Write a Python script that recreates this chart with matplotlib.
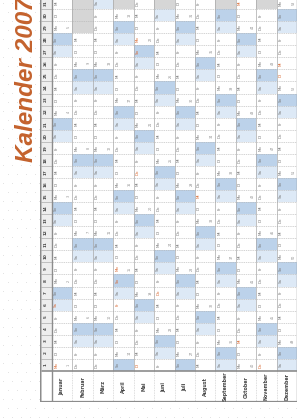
import numpy as np
import matplotlib
matplotlib.use("Agg")
import matplotlib.pyplot as plt
from matplotlib.colors import ListedColormap

title = "Kalender 2007"
months = ["Januar", "Februar", "März", "April", "Mai", "Juni", "Juli",
          "August", "September", "Oktober", "November", "Dezember"]
days_in_month = [31, 28, 31, 30, 31, 30, 31, 31, 30, 31, 30, 31]
first_weekday = [0, 3, 3, 6, 1, 4, 6, 2, 5, 0, 3, 5]   # 0 = Montag
weekday_abbr = ["Mo", "Di", "Mi", "Do", "Fr", "Sa", "So"]
holidays = [(1, 1), (1, 6), (4, 6), (4, 8), (4, 9), (5, 1), (5, 17), (5, 27),
            (5, 28), (6, 7), (8, 15), (10, 3), (10, 31), (11, 1), (12, 25), (12, 26)]
day_numbers = list(range(1, 32))

W, H = 298, 420
fig = plt.figure(figsize=(W / 100, H / 100), dpi=100)
fig.patch.set_facecolor("white")

# decorative dotted background
bg = fig.add_axes([0, 0, 1, 1])
bg.set_xlim(0, W)
bg.set_ylim(H, 0)
bg.axis("off")
gx, gy = np.meshgrid(np.arange(3, W, 9.0), np.arange(3, H, 9.0))
gx = gx + (np.arange(gy.shape[0])[:, None] % 2) * 4.5
bg.scatter(gx.ravel(), gy.ravel(), s=0.3, c="#d9d9d9", lw=0)

# main calendar axes
ax = fig.add_axes([40 / W, (H - 402) / H, 257 / W, 405 / H])
ax.set_xlim(-0.59, 12)
ax.set_ylim(-2.57, 31)
ax.set_xticks([])
ax.set_yticks([])
for s in ax.spines.values():
    s.set_visible(False)
ax.set_facecolor("white")

codes = np.zeros((31, 12))
for m in range(12):
    for d in day_numbers:
        if d > days_in_month[m]:
            codes[d - 1, m] = 3
        else:
            wd = (first_weekday[m] + d - 1) % 7
            codes[d - 1, m] = 2 if wd == 6 else (1 if wd == 5 else 0)
cmap = ListedColormap(["white", "#dde9f6", "#bcd2ea", "#d6d6d6"])
ax.pcolormesh(np.arange(13), np.arange(32), codes, cmap=cmap, vmin=-0.5, vmax=3.5)

# day-number column
ax.fill_between([-0.59, 0], 0, 31, color="#eeeeee", lw=0)

# grid lines
ax.hlines(np.arange(1, 31), 0, 12, color="#b4b4b4", lw=0.4, linestyles=(0, (2.5, 1.5)))
ax.hlines(np.arange(1, 31), -0.59, 0, color="#9a9a9a", lw=0.4)
ax.vlines(np.arange(1, 12), 0, 31, color="#a8a8a8", lw=0.5)
ax.vlines(np.arange(1, 12), -2.57, 0, color="#bbbbbb", lw=0.4, linestyles=(0, (1.5, 1.5)))
ax.vlines([0], -2.57, 31, color="#8c8c8c", lw=1.0)
ax.hlines([0], -0.59, 12, color="#8c8c8c", lw=1.2)
ax.vlines([-0.59], -2.57, 31, color="#8c8c8c", lw=1.6)
ax.vlines([-0.52], -2.57, 31, color="#b0b0b0", lw=0.5)
ax.hlines([-2.57], -0.59, 12, color="#8c8c8c", lw=1.6)
ax.vlines([12], -2.57, 31, color="#8c8c8c", lw=1.0)

# day numbers
for d in day_numbers:
    ax.text(-0.3, d - 0.5, str(d), rotation=90, ha="center", va="center",
            fontsize=3.0, color="#444444", fontweight="bold")

# weekday abbreviations and week numbers
hol = set(holidays)
day_of_year = 0
for m in range(12):
    for d in range(1, days_in_month[m] + 1):
        wd = (first_weekday[m] + d - 1) % 7
        col = "#d9662e" if (m + 1, d) in hol else "#7a7a7a"
        ax.text(m + 0.2, d - 0.5, weekday_abbr[wd], rotation=90, ha="center",
                va="center", fontsize=2.8, color=col)
        if wd == 0:
            ax.text(m + 0.82, d - 0.5, str(day_of_year // 7 + 1), rotation=90,
                    ha="center", va="center", fontsize=2.4, color="#8a8a8a")
        day_of_year += 1

# month names
for m, name in enumerate(months):
    ax.text(m + 0.5, -1.3, name, rotation=90, ha="center", va="center",
            fontsize=3.4, color="#444444", fontweight="bold")

# title
fig.text(33 / W, (H - 162) / H, title, rotation=90, rotation_mode="anchor",
         ha="left", va="baseline", fontsize=17.5, fontweight="bold",
         fontstyle="italic", color="#c4622d", family=["Liberation Sans", "DejaVu Sans"])

fig.savefig("out.png", dpi=100)
